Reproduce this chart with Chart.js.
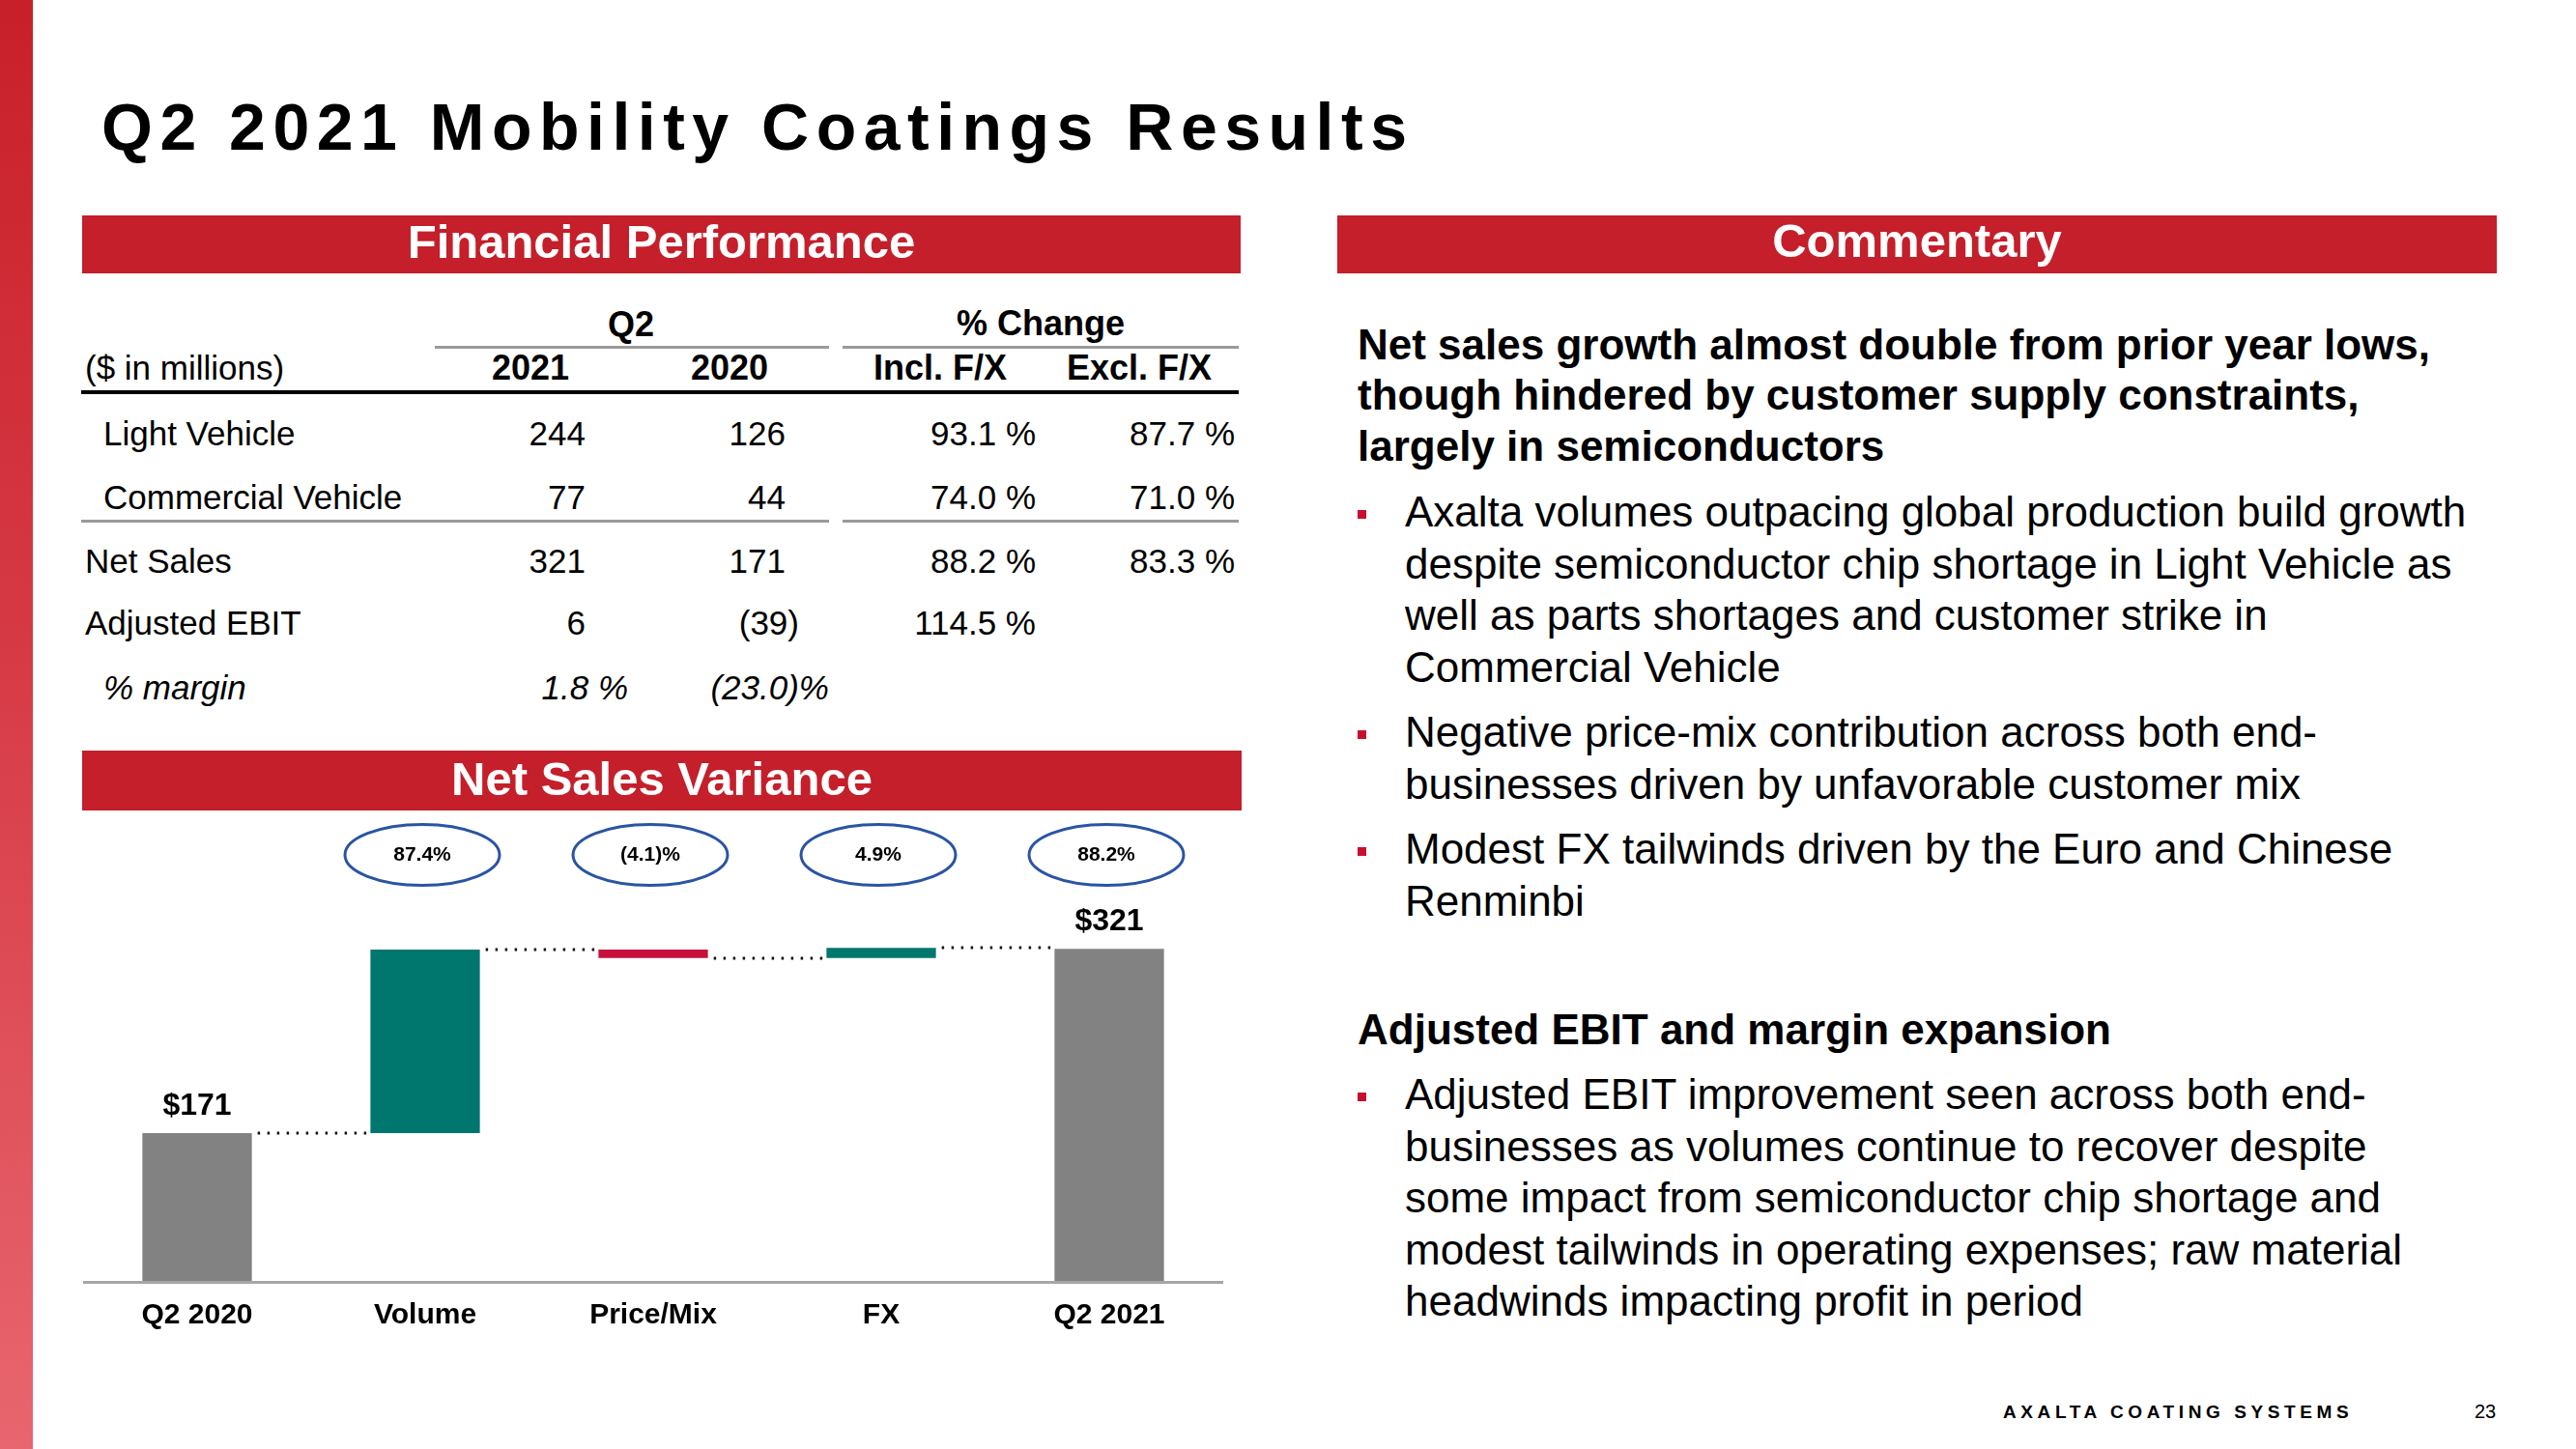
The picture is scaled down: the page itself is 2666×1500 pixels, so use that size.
<!DOCTYPE html>
<html>
<head>
<meta charset="utf-8">
<script src="https://cdn.jsdelivr.net/npm/chart.js@4.4.1/dist/chart.umd.min.js"></script>
<style>
  html, body { margin:0; padding:0; background:#fff; }
  body { width:2666px; height:1500px; position:relative; overflow:hidden;
         font-family:"Liberation Sans", Arial, Helvetica, sans-serif; color:#000; }
  .abs { position:absolute; }
  .t { position:absolute; line-height:1; white-space:nowrap; }
  .stripe { left:0; top:0; width:34px; height:1500px;
            background:linear-gradient(to bottom, #c8202a 0%, #d63a45 45%, #e8666f 100%); }
  .bar { position:absolute; background:#c41f2a; }
  .bar .lbl { position:absolute; left:0; width:100%; text-align:center; color:#fff;
              font-weight:bold; font-size:49px; line-height:1; white-space:nowrap; }
  .hd { font-weight:bold; font-size:36px; text-align:center; }
  .rg { font-size:35px; }
  .r { text-align:right; width:300px; }
  .gl { position:absolute; background:#9a9a9a; height:3px; }
  .blk { position:absolute; left:1405px; font-size:44px; white-space:nowrap; }
  .sq { position:absolute; left:1405px; width:9px; height:9px; background:#c8102e; }
</style>
</head>
<body>
<div class="abs stripe"></div>

<div class="t" style="left:105px; top:97px; font-size:68px; font-weight:bold; letter-spacing:7.5px;">Q2 2021 Mobility Coatings Results</div>

<div class="bar" style="left:85px; top:223px; width:1199px; height:60px;"><div class="lbl" style="top:2.5px;">Financial Performance</div></div>
<div class="bar" style="left:1384px; top:223px; width:1200px; height:60px;"><div class="lbl" style="top:1.5px;">Commentary</div></div>
<div class="bar" style="left:85px; top:777px; width:1200px; height:62px;"><div class="lbl" style="top:4.5px;">Net Sales Variance</div></div>

<!-- Financial table -->
<div class="t hd" style="left:553px; width:200px; top:317.5px;">Q2</div>
<div class="t hd" style="left:927px; width:300px; top:316.5px;">% Change</div>
<div class="gl" style="left:450px; top:358px; width:408px;"></div>
<div class="gl" style="left:872px; top:358px; width:410px;"></div>

<div class="t rg" style="left:88px; top:363.4px;">($ in millions)</div>
<div class="t hd" style="left:449px; width:200px; top:362.5px;">2021</div>
<div class="t hd" style="left:655px; width:200px; top:362.5px;">2020</div>
<div class="t hd" style="left:873px; width:200px; top:362.5px;">Incl. F/X</div>
<div class="t hd" style="left:1079px; width:200px; top:362.5px;">Excl. F/X</div>
<div class="abs" style="left:84px; top:404px; width:1198px; height:4px; background:#000;"></div>

<div class="t rg" style="left:107px; top:431.4px;">Light Vehicle</div>
<div class="t rg r" style="left:306px; top:431.4px;">244</div>
<div class="t rg r" style="left:513px; top:431.4px;">126</div>
<div class="t rg r" style="left:772px; top:431.4px;">93.1 %</div>
<div class="t rg r" style="left:978px; top:431.4px;">87.7 %</div>

<div class="t rg" style="left:107px; top:497.4px;">Commercial Vehicle</div>
<div class="t rg r" style="left:306px; top:497.4px;">77</div>
<div class="t rg r" style="left:513px; top:497.4px;">44</div>
<div class="t rg r" style="left:772px; top:497.4px;">74.0 %</div>
<div class="t rg r" style="left:978px; top:497.4px;">71.0 %</div>
<div class="gl" style="left:84px; top:538px; width:774px;"></div>
<div class="gl" style="left:872px; top:538px; width:410px;"></div>

<div class="t rg" style="left:88px; top:563.4px;">Net Sales</div>
<div class="t rg r" style="left:306px; top:563.4px;">321</div>
<div class="t rg r" style="left:513px; top:563.4px;">171</div>
<div class="t rg r" style="left:772px; top:563.4px;">88.2 %</div>
<div class="t rg r" style="left:978px; top:563.4px;">83.3 %</div>

<div class="t rg" style="left:88px; top:627.4px;">Adjusted EBIT</div>
<div class="t rg r" style="left:306px; top:627.4px;">6</div>
<div class="t rg r" style="left:527px; top:627.4px;">(39)</div>
<div class="t rg r" style="left:772px; top:627.4px;">114.5 %</div>

<div class="t rg" style="left:107px; top:694.4px; font-style:italic;">% margin</div>
<div class="t rg r" style="left:350px; top:694.4px; font-style:italic;">1.8 %</div>
<div class="t rg r" style="left:558px; top:694.4px; font-style:italic;">(23.0)%</div>

<!-- Waterfall chart -->
<div class="abs" style="left:86px; top:850px; width:1180px; height:547px;">
  <canvas id="wf" width="1180" height="547"></canvas>
</div>

<!-- Commentary -->
<div class="blk" style="top:330.5px; line-height:52.5px; font-weight:bold;">Net sales growth almost double from prior year lows,<br>though hindered by customer supply constraints,<br>largely in semiconductors</div>

<div class="sq" style="top:528px;"></div>
<div class="blk" style="left:1454px; top:503px; line-height:53.5px;">Axalta volumes outpacing global production build growth<br>despite semiconductor chip shortage in Light Vehicle as<br>well as parts shortages and customer strike in<br>Commercial Vehicle</div>

<div class="sq" style="top:756px;"></div>
<div class="blk" style="left:1454px; top:731px; line-height:53.5px;">Negative price-mix contribution across both end-<br>businesses driven by unfavorable customer mix</div>

<div class="sq" style="top:877px;"></div>
<div class="blk" style="left:1454px; top:852px; line-height:53.5px;">Modest FX tailwinds driven by the Euro and Chinese<br>Renminbi</div>

<div class="blk" style="top:1039px; line-height:53.5px; font-weight:bold;">Adjusted EBIT and margin expansion</div>

<div class="sq" style="top:1131px;"></div>
<div class="blk" style="left:1454px; top:1106px; line-height:53.5px;">Adjusted EBIT improvement seen across both end-<br>businesses as volumes continue to recover despite<br>some impact from semiconductor chip shortage and<br>modest tailwinds in operating expenses; raw material<br>headwinds impacting profit in period</div>

<div class="t" style="left:2073px; top:1452px; font-size:19px; font-weight:bold; letter-spacing:4.6px;">AXALTA COATING SYSTEMS</div>
<div class="t" style="left:2561px; top:1451px; font-size:20px;">23</div>

<script>
// ---- Data ----
const categories = ['Q2 2020', 'Volume', 'Price/Mix', 'FX', 'Q2 2021'];
const startTotal = 171;
const endTotal = 321;
const deltas = [149.5, -7.0, 8.4];            // Volume, Price/Mix, FX ($M)
const pctLabels = ['87.4%', '(4.1)%', '4.9%', '88.2%'];
const totalLabels = ['$171', '$321'];

// ---- Build floating bars ----
const FONT = '"Liberation Sans", Arial, sans-serif';
const GRAY = '#828282', TEAL = '#00776e', CRIMSON = '#c8103a';
const floating = [[0, startTotal]];
const levels = [startTotal];
let run = startTotal;
deltas.forEach(d => { floating.push([run, run + d]); run += d; levels.push(run); });
floating.push([0, endTotal]);
const colors = [GRAY].concat(deltas.map(d => d >= 0 ? TEAL : CRIMSON), [GRAY]);

const decor = {
  id: 'decor',
  afterDatasetsDraw(chart) {
    const ctx = chart.ctx;
    const y = chart.scales.y;
    const els = chart.getDatasetMeta(0).data;
    const area = chart.chartArea;
    ctx.save();
    // dotted connectors
    ctx.strokeStyle = '#111';
    ctx.lineWidth = 3;
    ctx.setLineDash([2.5, 7.5]);
    for (let i = 0; i < els.length - 1; i++) {
      const a = els[i], b = els[i + 1];
      const py = Math.round(y.getPixelForValue(levels[Math.min(i, levels.length - 1)]));
      ctx.beginPath();
      ctx.moveTo(a.x + a.width / 2 + 6, py);
      ctx.lineTo(b.x - b.width / 2 - 1, py);
      ctx.stroke();
    }
    ctx.setLineDash([]);
    // percentage ellipses
    ctx.textAlign = 'center';
    ctx.textBaseline = 'middle';
    for (let i = 1; i < els.length; i++) {
      const cx = els[i].x - 3, cy = area.top + 35;
      ctx.beginPath();
      ctx.ellipse(cx, cy, 80, 31.5, 0, 0, Math.PI * 2);
      ctx.strokeStyle = '#2a54a3';
      ctx.lineWidth = 3;
      ctx.stroke();
      ctx.fillStyle = '#000';
      ctx.font = 'bold 21px ' + FONT;
      ctx.fillText(pctLabels[i - 1], cx, cy);
    }
    // total value labels
    ctx.font = 'bold 32px ' + FONT;
    ctx.fillStyle = '#000';
    [0, els.length - 1].forEach((idx, k) => {
      const e = els[idx];
      ctx.fillText(totalLabels[k], e.x, e.y - 28);
    });
    ctx.restore();
  }
};

new Chart(document.getElementById('wf'), {
  type: 'bar',
  data: {
    labels: categories,
    datasets: [{
      data: floating,
      backgroundColor: colors,
      borderWidth: 0,
      categoryPercentage: 0.96,
      barPercentage: 0.5,
      clip: 0
    }]
  },
  options: {
    responsive: false,
    animation: false,
    devicePixelRatio: 1,
    layout: { padding: 0 },
    plugins: { legend: { display: false }, tooltip: { enabled: false } },
    scales: {
      x: {
        grid: { display: false, drawTicks: false },
        border: { display: true, color: '#a6a6a6', width: 3, z: 1 },
        ticks: { color: '#000', font: { family: FONT, size: 30, weight: 'bold' },
                 padding: 17, maxRotation: 0, autoSkip: false }
      },
      y: { display: false, min: 50, max: 425 }
    }
  },
  plugins: [decor]
});
</script>
</body>
</html>
